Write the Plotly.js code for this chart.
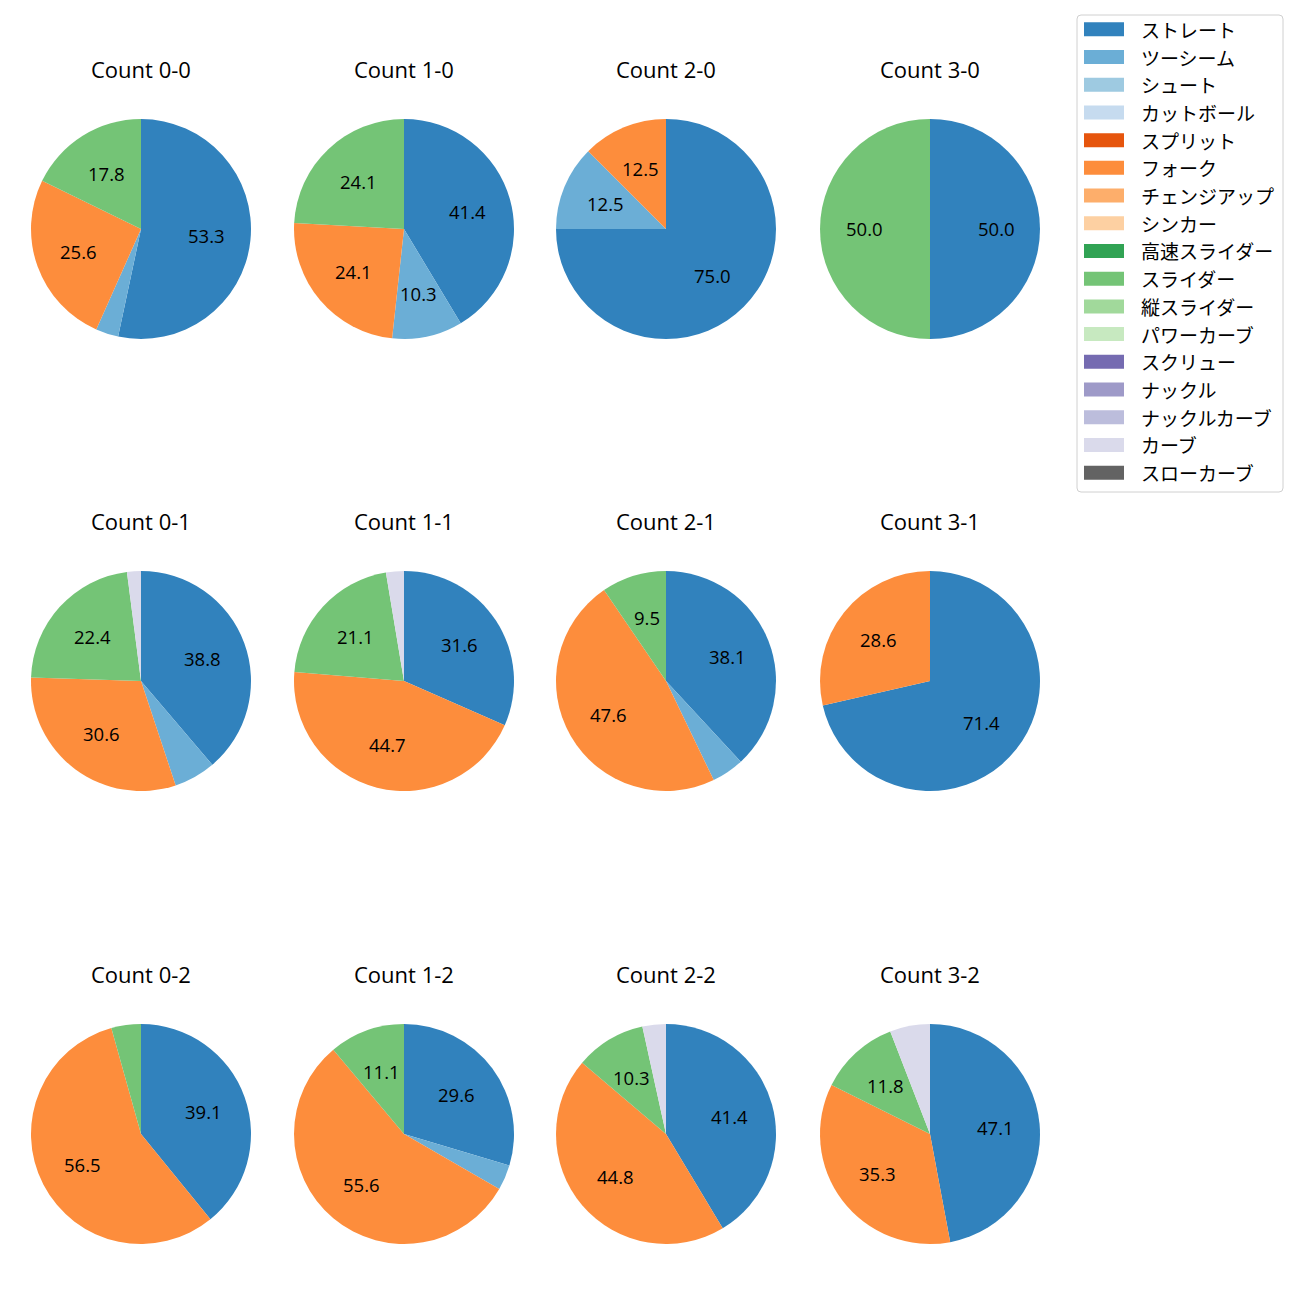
<!DOCTYPE html>
<html><head><meta charset="utf-8">
<script src="https://cdn.plot.ly/plotly-3.0.1.min.js"></script>
<style>body{margin:0;background:#fff}</style>
</head><body><div id="chart" style="width:1300px;height:1300px"></div>
<script>
const pitchTypes = ['ストレート','ツーシーム','シュート','カットボール','スプリット','フォーク','チェンジアップ','シンカー','高速スライダー','スライダー','縦スライダー','パワーカーブ','スクリュー','ナックル','ナックルカーブ','カーブ','スローカーブ'];
const pitchColors = ['#3182bd','#6baed6','#9ecae1','#c6dbef','#e6550d','#fd8d3c','#fdae6b','#fdd0a2','#31a354','#74c476','#a1d99b','#c7e9c0','#756bb1','#9e9ac8','#bcbddc','#dadaeb','#636363'];
const countTitles = ['Count 0-0','Count 1-0','Count 2-0','Count 3-0','Count 0-1','Count 1-1','Count 2-1','Count 3-1','Count 0-2','Count 1-2','Count 2-2','Count 3-2'];

// pitch counts per ball-strike count, in pitchTypes order
const count00 = [48,3,0,0,0,23,0,0,0,16,0,0,0,0,0,0,0];
const count10 = [12,3,0,0,0,7,0,0,0,7,0,0,0,0,0,0,0];
const count20 = [6,1,0,0,0,1,0,0,0,0,0,0,0,0,0,0,0];
const count30 = [1,0,0,0,0,0,0,0,0,1,0,0,0,0,0,0,0];
const count01 = [19,3,0,0,0,15,0,0,0,11,0,0,0,0,0,1,0];
const count11 = [12,0,0,0,0,17,0,0,0,8,0,0,0,0,0,1,0];
const count21 = [8,1,0,0,0,10,0,0,0,2,0,0,0,0,0,0,0];
const count31 = [5,0,0,0,0,2,0,0,0,0,0,0,0,0,0,0,0];
const count02 = [9,0,0,0,0,13,0,0,0,1,0,0,0,0,0,0,0];
const count12 = [8,1,0,0,0,15,0,0,0,3,0,0,0,0,0,0,0];
const count22 = [12,0,0,0,0,13,0,0,0,3,0,0,0,0,0,1,0];
const count32 = [8,0,0,0,0,6,0,0,0,2,0,0,0,0,0,1,0];
const countValues = [count00,count10,count20,count30,count01,count11,count21,count31,count02,count12,count22,count32];

const W = 1300, H = 1300;
const colCenters = [141, 404, 666, 930];
const rowCenters = [229, 681, 1134];
const R = 110;
const LATIN = '"Open Sans", "Noto Sans CJK JP", sans-serif';
const JP = '"Noto Sans CJK JP", "Noto Sans", sans-serif';
const LABEL_MIN = 7;

const traces = [], annotations = [], shapes = [];
countValues.forEach((vals, k) => {
  const cx = colCenters[k % 4], cy = rowCenters[Math.floor(k / 4)];
  traces.push({
    type: 'pie', labels: pitchTypes, values: vals,
    marker: {colors: pitchColors, line: {width: 0}},
    sort: false, direction: 'clockwise', rotation: 0,
    textinfo: 'none', hoverinfo: 'label+percent', showlegend: false,
    domain: {x: [(cx - R) / W, (cx + R) / W], y: [1 - (cy + R) / H, 1 - (cy - R) / H]}
  });
  annotations.push({
    text: countTitles[k], x: cx / W, y: 1 - (cy - 160) / H, xref: 'paper', yref: 'paper',
    xanchor: 'center', yanchor: 'middle', showarrow: false,
    font: {family: LATIN, size: 22, color: '#000'}
  });
  const total = vals.reduce((a, b) => a + b, 0);
  let cum = 0;
  vals.forEach(v => {
    if (v > 0) {
      const pct = 100 * v / total;
      if (pct >= LABEL_MIN) {
        const th = 2 * Math.PI * (cum + v / 2) / total;
        annotations.push({
          text: pct.toFixed(1),
          x: (cx + 0.6 * R * Math.sin(th)) / W, y: 1 - (cy - 0.6 * R * Math.cos(th)) / H,
          xref: 'paper', yref: 'paper', xanchor: 'center', yanchor: 'middle', showarrow: false,
          font: {family: LATIN, size: 18.5, color: '#000'}
        });
      }
      cum += v;
    }
  });
});

// legend box
const lx0 = 1077, lx1 = 1283, ly0 = 15, ly1 = 492, rr = 4;
const px = x => x / W, py = y => 1 - y / H;
shapes.push({
  type: 'path', xref: 'paper', yref: 'paper',
  path: `M${px(lx0 + rr)},${py(ly0)} L${px(lx1 - rr)},${py(ly0)} Q${px(lx1)},${py(ly0)} ${px(lx1)},${py(ly0 + rr)} ` +
        `L${px(lx1)},${py(ly1 - rr)} Q${px(lx1)},${py(ly1)} ${px(lx1 - rr)},${py(ly1)} ` +
        `L${px(lx0 + rr)},${py(ly1)} Q${px(lx0)},${py(ly1)} ${px(lx0)},${py(ly1 - rr)} ` +
        `L${px(lx0)},${py(ly0 + rr)} Q${px(lx0)},${py(ly0)} ${px(lx0 + rr)},${py(ly0)} Z`,
  line: {color: '#d0d0d0', width: 1}, fillcolor: 'rgba(255,255,255,0.8)', layer: 'above'
});
pitchTypes.forEach((name, i) => {
  const yc = 29.3 + i * 27.71;
  shapes.push({
    type: 'rect', xref: 'paper', yref: 'paper',
    x0: px(1084), x1: px(1124), y0: py(yc - 7), y1: py(yc + 7),
    fillcolor: pitchColors[i], line: {width: 0}, layer: 'above'
  });
  annotations.push({
    text: name, x: px(1139), y: py(yc), xref: 'paper', yref: 'paper',
    xanchor: 'left', yanchor: 'middle', showarrow: false,
    font: {family: JP, size: 19, color: '#000'}
  });
});

Plotly.newPlot('chart', traces, {
  width: W, height: H, margin: {l: 0, r: 0, t: 0, b: 0},
  paper_bgcolor: '#fff', showlegend: false,
  annotations: annotations, shapes: shapes,
  font: {family: LATIN}
}, {staticPlot: true});
</script></body></html>
